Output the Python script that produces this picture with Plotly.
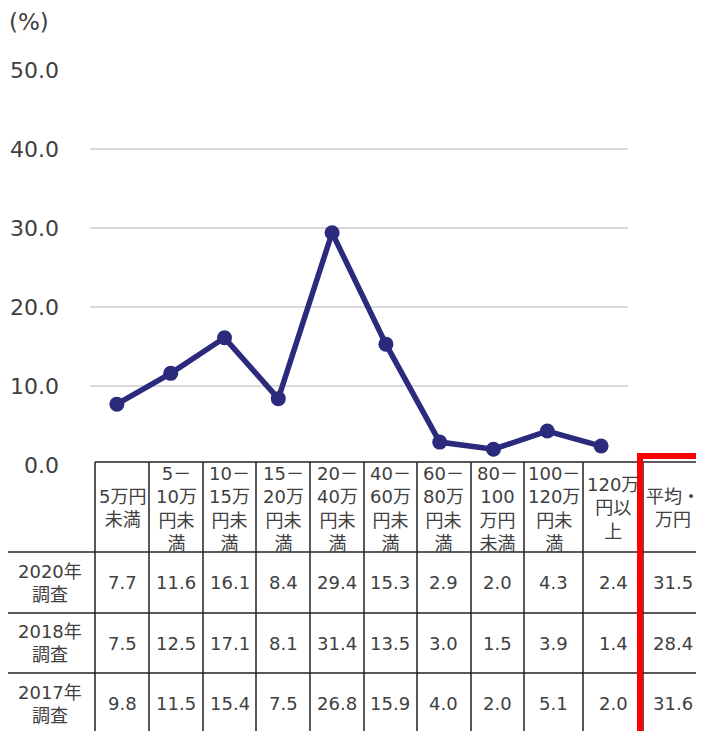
import plotly.graph_objects as go

W, H = 704, 731          # target window
OFF = 8                  # page body margin
FW, FH = W - OFF, H - OFF

categories = ["5万円<br>未満", "5－<br>10万<br>円未<br>満", "10－<br>15万<br>円未<br>満", "15－<br>20万<br>円未<br>満",
              "20－<br>40万<br>円未<br>満", "40－<br>60万<br>円未<br>満", "60－<br>80万<br>円未<br>満",
              "80－<br>100<br>万円<br>未満", "100－<br>120万<br>円未<br>満", "120万<br>円以<br>上"]
avg_header = "平均・<br>万円"
row_labels = ["2020年<br>調査", "2018年<br>調査", "2017年<br>調査"]
values_2020 = [7.7, 11.6, 16.1, 8.4, 29.4, 15.3, 2.9, 2.0, 4.3, 2.4]
values_2018 = [7.5, 12.5, 17.1, 8.1, 31.4, 13.5, 3.0, 1.5, 3.9, 1.4]
values_2017 = [9.8, 11.5, 15.4, 7.5, 26.8, 15.9, 4.0, 2.0, 5.1, 2.0]
averages = [31.5, 28.4, 31.6]
y_ticks = [0, 10, 20, 30, 40, 50]

FONT = "DejaVu Sans, Noto Sans CJK JP, sans-serif"
TXT = "#404040"
LINE_C = "#2B2A7C"


def px(x):
    return (x - OFF) / FW


def py(y):
    return 1 - (y - OFF) / FH


fig = go.Figure()
fig.add_trace(go.Scatter(
    x=list(range(len(values_2020))), y=values_2020, mode="lines+markers",
    line=dict(color=LINE_C, width=5.5), marker=dict(color=LINE_C, size=15),
    hoverinfo="skip", showlegend=False, cliponaxis=False))

fig.update_layout(
    width=FW, height=FH, margin=dict(l=0, r=0, t=0, b=0, pad=0, autoexpand=False),
    paper_bgcolor="white", plot_bgcolor="white", showlegend=False,
    xaxis=dict(domain=[px(90), px(628)], range=[-0.5, 9.5], showticklabels=False,
               showgrid=False, zeroline=False, fixedrange=True, automargin=False),
    yaxis=dict(domain=[py(465), py(70)], range=[0, 50], tickvals=y_ticks,
               ticktext=[f"{v:.1f}" for v in y_ticks], showgrid=True,
               gridcolor="#D9D9D9", gridwidth=2, zeroline=False, ticks="",
               tickfont=dict(family=FONT, size=22, color=TXT), ticklabelstandoff=30,
               fixedrange=True, automargin=False),
)

shapes = []
ann = []

def hline(x0, x1, y, color="#222", w=1.5):
    shapes.append(dict(type="line", xref="paper", yref="paper", x0=px(x0), x1=px(x1),
                       y0=py(y), y1=py(y), line=dict(color=color, width=w)))

def vline(x, y0, y1, color="#222", w=1.5):
    shapes.append(dict(type="line", xref="paper", yref="paper", x0=px(x), x1=px(x),
                       y0=py(y0), y1=py(y1), line=dict(color=color, width=w)))

def text(x, y, s, size):
    ann.append(dict(x=px(x), y=py(y), xref="paper", yref="paper", text=s, showarrow=False,
                    font=dict(family=FONT, size=size, color=TXT), align="center",
                    xanchor="center", yanchor="middle"))

# axis unit label
ann.append(dict(x=px(7), y=py(22), xref="paper", yref="paper", text="(%)", showarrow=False,
                font=dict(family=FONT, size=23, color=TXT), xanchor="left", yanchor="middle"))

col_edges = [95, 149, 203, 256, 310, 364, 417, 471, 524, 583, 643, 702]
row_edges = [462, 552, 613, 673, 740]
left_x0 = 5

# table grid
hline(col_edges[0], col_edges[-1], row_edges[0])
for y in row_edges[1:4]:
    hline(left_x0, col_edges[-1], y)
for x in col_edges:
    vline(x, row_edges[0], H + 5)
vline(left_x0, row_edges[1], H + 5)

# header texts
headers = categories + [avg_header]
for i, h in enumerate(headers):
    cx = (col_edges[i] + col_edges[i + 1]) / 2
    text(cx, (row_edges[0] + row_edges[1]) / 2 + 1, h, 18)

rows = [values_2020, values_2018, values_2017]
for r, (lab, vals, av) in enumerate(zip(row_labels, rows, averages)):
    cy = (row_edges[r + 1] + min(row_edges[r + 2], 734)) / 2
    text((left_x0 + col_edges[0]) / 2, cy, lab, 18)
    for i, v in enumerate(list(vals) + [av]):
        cx = (col_edges[i] + col_edges[i + 1]) / 2
        text(cx, cy, f"{v:.1f}", 18)

# red highlight box
shapes.append(dict(type="rect", xref="paper", yref="paper", x0=px(640), x1=px(701),
                   y0=py(456), y1=py(740), line=dict(color="#FF0000", width=6)))

fig.update_layout(shapes=shapes, annotations=ann)
fig.write_html("out.html")
